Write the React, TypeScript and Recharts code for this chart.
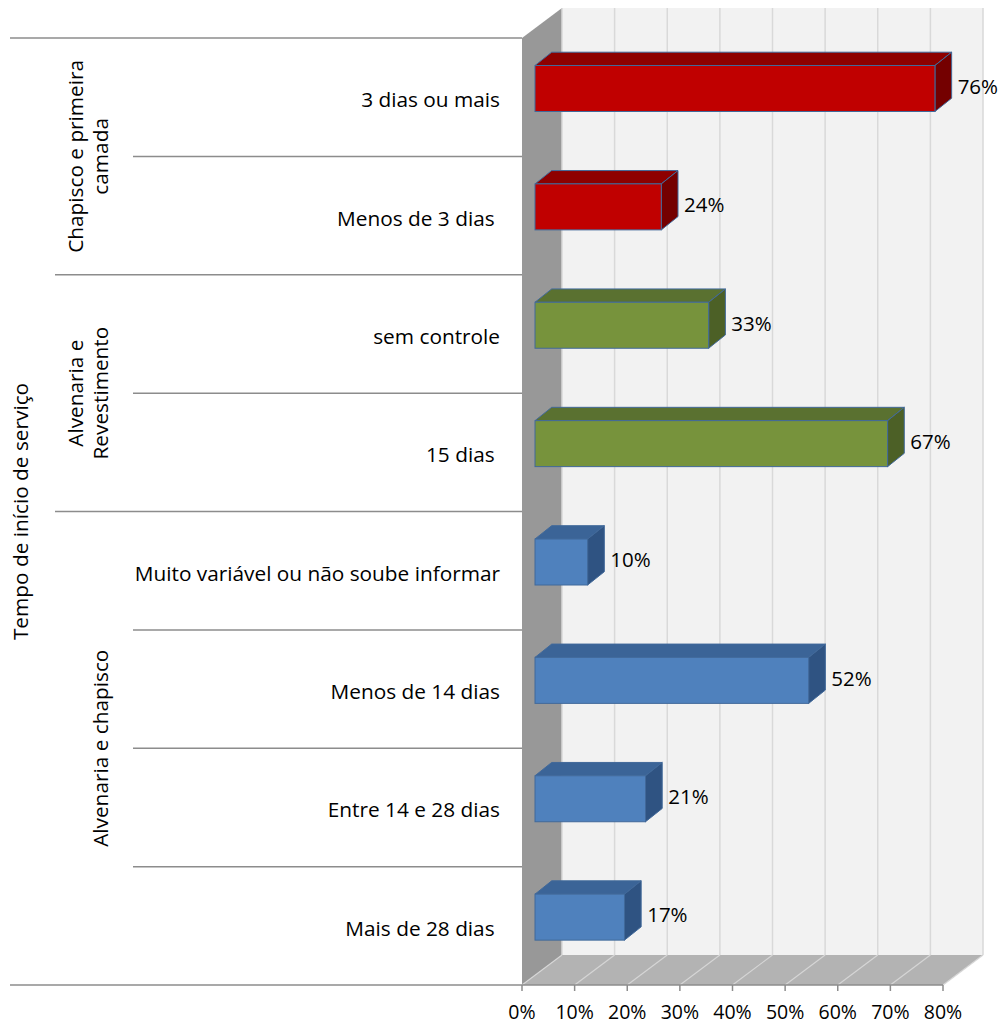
import React from 'react';
import { BarChart, Bar, XAxis, YAxis, Customized, LabelList } from 'recharts';

// Sub-categories, top to bottom
const categories = [
  '3 dias ou mais',
  'Menos de 3 dias ',
  'sem controle',
  '15 dias ',
  'Muito variável ou não soube informar',
  'Menos de 14 dias',
  'Entre 14 e 28 dias',
  'Mais de 28 dias ',
];

// Share of answers for each sub-category
const values = [0.76, 0.24, 0.33, 0.67, 0.1, 0.52, 0.21, 0.17];

// Outer groups (label lines) and how many sub-categories each one spans
const groupLabels = [
  ['Chapisco e primeira', 'camada'],
  ['Alvenaria e', 'Revestimento'],
  ['Alvenaria e chapisco'],
];
const groupSizes = [2, 2, 4];

const axisTitle = 'Tempo de início de serviço';
const xTicks = [0, 0.1, 0.2, 0.3, 0.4, 0.5, 0.6, 0.7, 0.8];

// Face colours per group: front, top, side
const FACES = [
  { front: '#C00000', top: '#8E0000', side: '#740000' },
  { front: '#77933C', top: '#5A7130', side: '#4C6026' },
  { front: '#4F81BD', top: '#3B6497', side: '#2F5382' },
];
const OUTLINE = '#41699A';

const FONT = '"Open Sans", sans-serif';
const FS = 20.8; // category and group text
const FS_VALUE = 20.5; // value labels
const FS_TICK = 19.5; // percentage ticks

// Layout
const W = 1001;
const H = 1024;
const L = 522;
const R = 943;
const T = 38;
const B = 985;
const DX = 40; // depth of the back wall
const DY = -30;
const BAR_DX = 13; // bar front face offset into the depth
const BAR_DY = -8.5;
const BAR_DEPTH_X = 16.7;
const BAR_DEPTH_Y = -13.3;
const X_MAX = 0.8;

const groupIndex: number[] = [];
groupSizes.forEach((n, g) => {
  for (let k = 0; k < n; k++) groupIndex.push(g);
});

const data = categories.map((label, i) => ({ label, value: values[i], group: groupIndex[i] }));

const bandH = (B - T) / categories.length;
const tx = (v: number) => L + (v / X_MAX) * (R - L);

const Frame = () => {
  const lines: React.ReactNode[] = [];
  // category separators
  let idx = 0;
  const groupBounds: [number, number][] = [];
  groupSizes.forEach((n) => {
    const start = idx;
    for (let k = 1; k < n; k++) {
      const y = T + bandH * (start + k);
      lines.push(<line key={'in' + (start + k)} x1={133} y1={y} x2={L} y2={y} stroke="#8C8C8C" strokeWidth={1.5} />);
    }
    idx += n;
    groupBounds.push([T + bandH * start, T + bandH * idx]);
    if (idx < categories.length) {
      const y = T + bandH * idx;
      lines.push(<line key={'g' + idx} x1={55} y1={y} x2={L} y2={y} stroke="#8C8C8C" strokeWidth={1.5} />);
    }
  });
  return (
    <g>
      {/* side wall */}
      <polygon points={`${L},${T} ${L + DX},${T + DY} ${L + DX},${B + DY} ${L},${B}`} fill="#989898" />
      {/* back wall */}
      <rect x={L + DX} y={T + DY} width={R - L} height={B - T} fill="#F2F2F2" />
      {xTicks.map((t) => (
        <line key={'bw' + t} x1={tx(t) + DX} y1={T + DY} x2={tx(t) + DX} y2={B + DY} stroke="#D9D9D9" strokeWidth={1.5} />
      ))}
      {/* floor */}
      <polygon points={`${L},${B} ${R},${B} ${R + DX},${B + DY} ${L + DX},${B + DY}`} fill="#B3B3B3" />
      {xTicks.map((t) => (
        <line key={'fl' + t} x1={tx(t)} y1={B} x2={tx(t) + DX} y2={B + DY} stroke="#D6D6D6" strokeWidth={1.2} />
      ))}
      {/* left structure lines */}
      <line x1={10} y1={T} x2={L} y2={T} stroke="#8C8C8C" strokeWidth={1.5} />
      <line x1={10} y1={B} x2={L} y2={B} stroke="#8C8C8C" strokeWidth={1.5} />
      {lines}
      {groupLabels.map((ls, g) => {
        const cy = (groupBounds[g][0] + groupBounds[g][1]) / 2;
        const cx = ls.length === 1 ? 100 : 87.5;
        return (
          <text
            key={'gl' + g}
            transform={`translate(${cx},${cy}) rotate(-90)`}
            textAnchor="middle"
            fontFamily={FONT}
            fontSize={FS}
            fill="#000"
          >
            {ls.map((s, j) => (
              <tspan key={j} x={0} y={(j - (ls.length - 1) / 2) * 25} dominantBaseline="central">
                {s}
              </tspan>
            ))}
          </text>
        );
      })}
      <text
        transform={`translate(20,${(T + B) / 2}) rotate(-90)`}
        textAnchor="middle"
        dominantBaseline="central"
        fontFamily={FONT}
        fontSize={FS}
        fill="#000"
      >
        {axisTitle}
      </text>
    </g>
  );
};

const Bar3D = (props: any) => {
  const { x, y, width, height, payload } = props;
  const c = FACES[payload.group];
  const fx = x + BAR_DX;
  const fy = y + BAR_DY;
  const dx = BAR_DEPTH_X;
  const dy = BAR_DEPTH_Y;
  return (
    <g>
      <polygon
        points={`${fx},${fy} ${fx + dx},${fy + dy} ${fx + width + dx},${fy + dy} ${fx + width},${fy}`}
        fill={c.top}
        stroke={OUTLINE}
        strokeWidth={1}
        strokeLinejoin="round"
      />
      <polygon
        points={`${fx + width},${fy} ${fx + width + dx},${fy + dy} ${fx + width + dx},${fy + height + dy} ${fx + width},${fy + height}`}
        fill={c.side}
        stroke={OUTLINE}
        strokeWidth={1}
        strokeLinejoin="round"
      />
      <rect x={fx} y={fy} width={width} height={height} fill={c.front} stroke={OUTLINE} strokeWidth={1} />
    </g>
  );
};

const ValueLabel = (p: any) => (
  <text
    x={p.x + p.width + BAR_DX + BAR_DEPTH_X + 6}
    y={p.y + p.height / 2 + BAR_DY + BAR_DEPTH_Y / 2 + 4}
    dominantBaseline="central"
    fontFamily={FONT}
    fontSize={FS_VALUE}
    fill="#000"
  >
    {Math.round(p.value * 100) + '%'}
  </text>
);

const CategoryTick = (p: any) => (
  <text
    x={500}
    y={p.y + 2}
    textAnchor="end"
    dominantBaseline="central"
    fontFamily={FONT}
    fontSize={FS}
    fill="#000"
    style={{ whiteSpace: 'pre' }}
  >
    {p.payload.value}
  </text>
);

export default function App() {
  return (
    <div style={{ position: 'absolute', left: 0, top: 0, width: W, height: H, background: '#fff' }}>
      <BarChart
        width={W}
        height={H}
        data={data}
        layout="vertical"
        margin={{ top: T, right: W - R, bottom: 0, left: 0 }}
        barSize={46}
      >
        <Customized component={<Frame />} />
        <XAxis
          type="number"
          domain={[0, X_MAX]}
          ticks={xTicks}
          height={H - B}
          tickFormatter={(v: number) => Math.round(v * 100) + '%'}
          axisLine={{ stroke: '#8C8C8C', strokeWidth: 1.5 }}
          tickLine={{ stroke: '#8C8C8C', strokeWidth: 1.5 }}
          tickSize={6}
          tickMargin={14}
          tick={{ fill: '#000', fontFamily: FONT, fontSize: FS_TICK }}
          interval={0}
        />
        <YAxis
          type="category"
          dataKey="label"
          width={L}
          axisLine={false}
          tickLine={false}
          tick={<CategoryTick />}
          interval={0}
        />
        <Bar dataKey="value" shape={<Bar3D />} isAnimationActive={false}>
          <LabelList dataKey="value" content={<ValueLabel />} />
        </Bar>
      </BarChart>
    </div>
  );
}
